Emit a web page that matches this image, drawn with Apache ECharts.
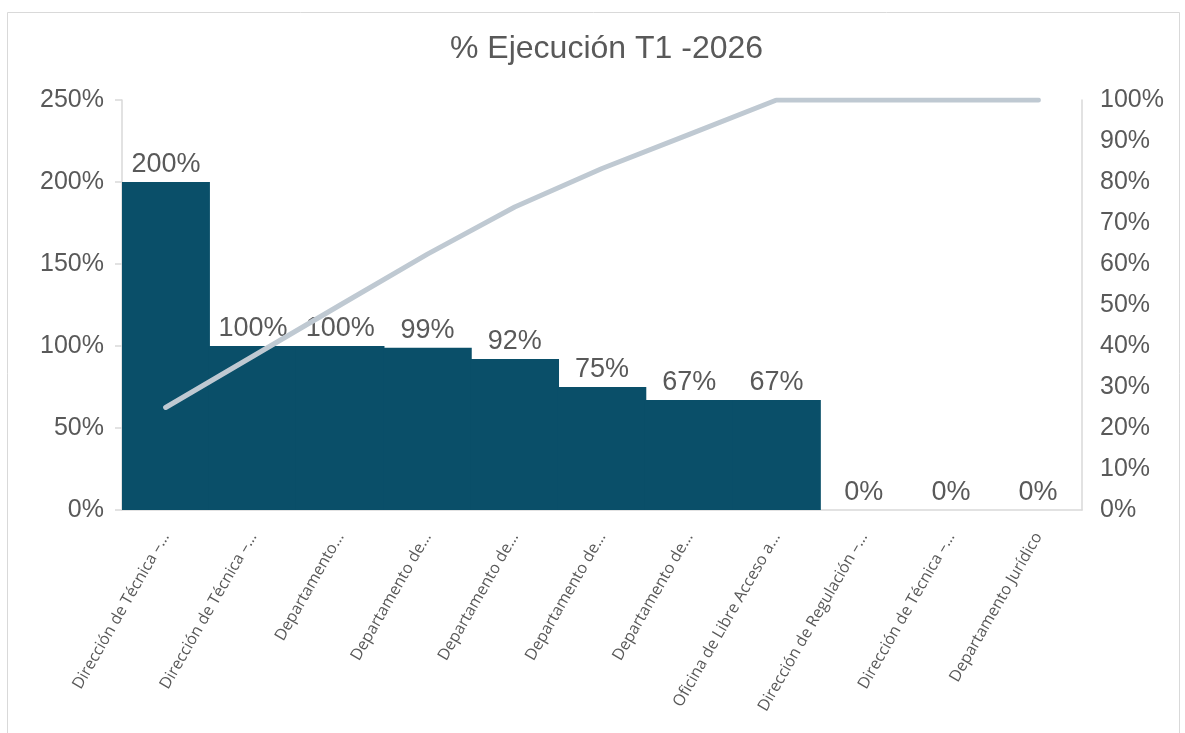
<!DOCTYPE html>
<html>
<head>
<meta charset="utf-8">
<script src="https://cdn.jsdelivr.net/npm/echarts@6/dist/echarts.min.js"></script>
<style>
html,body{margin:0;padding:0;background:#fff;}
#c{width:1185px;height:733px;}
</style>
</head>
<body>
<div id="c"></div>
<script>
const titleText = '% Ejecución T1 -2026';
const categories = [
  'Dirección de Técnica –…',
  'Dirección de Técnica –…',
  'Departamento…',
  'Departamento de…',
  'Departamento de…',
  'Departamento de…',
  'Departamento de…',
  'Oficina de Libre Acceso a…',
  'Dirección de Regulación –…',
  'Dirección de Técnica –…',
  'Departamento Jurídico'
];
const execution = [200, 100, 100, 99, 92, 75, 67, 67, 0, 0, 0];
const cumulative = [25, 37.5, 50, 62.4, 73.9, 83.3, 91.6, 100, 100, 100, 100];

const chart = echarts.init(document.getElementById('c'));
const txt = '#595959';
const axisGray = '#D9D9D9';
const barColor = '#0A4F69';
chart.setOption({
  animation: false,
  graphic: [{
    type: 'rect', left: 7, top: 12, z: -1,
    shape: {width: 1172, height: 740},
    style: {fill: '#fff', stroke: '#D9D9D9', lineWidth: 1}
  }],
  title: {
    text: titleText, left: 445, top: 28,
    textStyle: {fontFamily: 'Liberation Sans', fontSize: 32, fontWeight: 'normal', color: txt}
  },
  grid: {left: 122, right: 103, top: 100, bottom: 223},
  xAxis: {
    type: 'category', data: categories, boundaryGap: true,
    axisLine: {lineStyle: {color: axisGray, width: 1.5}},
    axisTick: {alignWithLabel: true, length: 7, lineStyle: {color: axisGray, width: 1.5}},
    axisLabel: {rotate: 60, interval: 0, margin: 24, color: txt, fontFamily: 'Open Sans', fontSize: 16}
  },
  yAxis: [{
    type: 'value', min: 0, max: 250, interval: 50,
    splitLine: {show: false},
    axisLine: {show: true, lineStyle: {color: axisGray, width: 1.5}},
    axisTick: {show: true, length: 7, lineStyle: {color: axisGray, width: 1.5}},
    axisLabel: {formatter: '{value}%', margin: 18, color: txt, fontFamily: 'Liberation Sans', fontSize: 25}
  }, {
    type: 'value', min: 0, max: 100, interval: 10,
    splitLine: {show: false},
    axisLine: {show: true, lineStyle: {color: axisGray, width: 1.5}},
    axisTick: {show: false},
    axisLabel: {formatter: '{value}%', margin: 18, color: txt, fontFamily: 'Liberation Sans', fontSize: 25}
  }],
  series: [{
    type: 'bar', data: execution, barWidth: '101.5%', barCategoryGap: 0,
    itemStyle: {color: barColor},
    label: {show: true, position: 'top', distance: 4, formatter: '{c}%', color: txt,
            fontFamily: 'Liberation Sans', fontSize: 27}
  }, {
    type: 'line', yAxisIndex: 1, data: cumulative, symbol: 'none',
    lineStyle: {color: '#BFC9D2', width: 5, cap: 'round', join: 'round'},
    z: 5
  }]
});
</script>
</body>
</html>
